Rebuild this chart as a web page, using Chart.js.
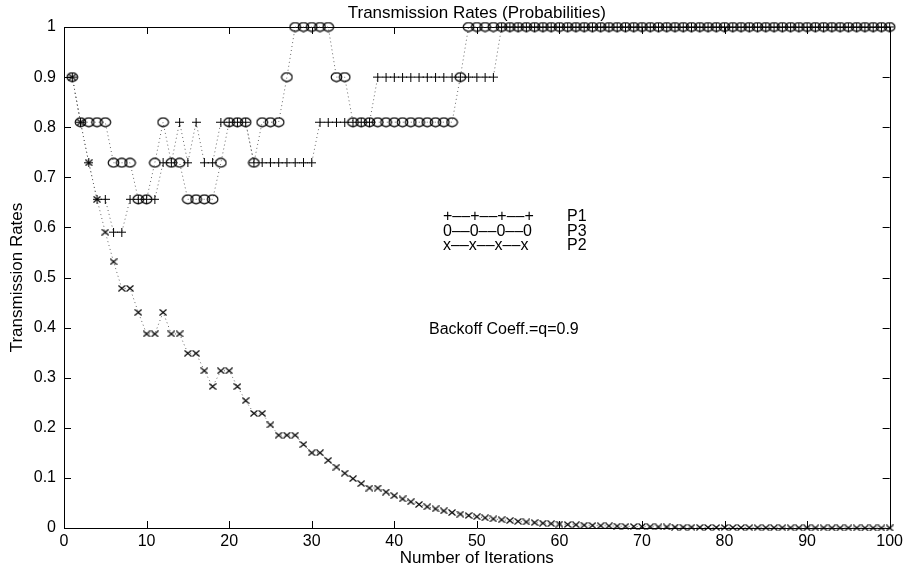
<!DOCTYPE html>
<html>
<head>
<meta charset="utf-8">
<title>Transmission Rates</title>
<script src="https://cdn.jsdelivr.net/npm/chart.js@4.4.1/dist/chart.umd.min.js"></script>
<style>
  html, body { margin: 0; padding: 0; background: #fff; }
  canvas { display: block; }
</style>
</head>
<body>
<canvas id="rates" width="907" height="569"></canvas>
<script>
// iteration number for every sample
const iterations = [
  1, 2, 3, 4, 5, 6, 7, 8, 9, 10, 11, 12, 13, 14, 15, 16, 17, 18, 19, 20,
  21, 22, 23, 24, 25, 26, 27, 28, 29, 30, 31, 32, 33, 34, 35, 36, 37, 38, 39, 40,
  41, 42, 43, 44, 45, 46, 47, 48, 49, 50, 51, 52, 53, 54, 55, 56, 57, 58, 59, 60,
  61, 62, 63, 64, 65, 66, 67, 68, 69, 70, 71, 72, 73, 74, 75, 76, 77, 78, 79, 80,
  81, 82, 83, 84, 85, 86, 87, 88, 89, 90, 91, 92, 93, 94, 95, 96, 97, 98, 99, 100
];

// transmission probability of each station per iteration (q = 0.9)
const p1 = [
  0.9, 0.81, 0.729, 0.6561, 0.6561, 0.5905, 0.5905, 0.6561, 0.6561, 0.6561,
  0.6561, 0.729, 0.729, 0.81, 0.729, 0.81, 0.729, 0.729, 0.81, 0.81,
  0.81, 0.81, 0.729, 0.729, 0.729, 0.729, 0.729, 0.729, 0.729, 0.729,
  0.81, 0.81, 0.81, 0.81, 0.81, 0.81, 0.81, 0.9, 0.9, 0.9,
  0.9, 0.9, 0.9, 0.9, 0.9, 0.9, 0.9, 0.9, 0.9, 0.9,
  0.9, 0.9, 1, 1, 1, 1, 1, 1, 1, 1,
  1, 1, 1, 1, 1, 1, 1, 1, 1, 1,
  1, 1, 1, 1, 1, 1, 1, 1, 1, 1,
  1, 1, 1, 1, 1, 1, 1, 1, 1, 1,
  1, 1, 1, 1, 1, 1, 1, 1, 1, 1
];
const p3 = [
  0.9, 0.81, 0.81, 0.81, 0.81, 0.729, 0.729, 0.729, 0.6561, 0.6561,
  0.729, 0.81, 0.729, 0.729, 0.6561, 0.6561, 0.6561, 0.6561, 0.729, 0.81,
  0.81, 0.81, 0.729, 0.81, 0.81, 0.81, 0.9, 1, 1, 1,
  1, 1, 0.9, 0.9, 0.81, 0.81, 0.81, 0.81, 0.81, 0.81,
  0.81, 0.81, 0.81, 0.81, 0.81, 0.81, 0.81, 0.9, 1, 1,
  1, 1, 1, 1, 1, 1, 1, 1, 1, 1,
  1, 1, 1, 1, 1, 1, 1, 1, 1, 1,
  1, 1, 1, 1, 1, 1, 1, 1, 1, 1,
  1, 1, 1, 1, 1, 1, 1, 1, 1, 1,
  1, 1, 1, 1, 1, 1, 1, 1, 1, 1
];
const p2 = [
  0.9, 0.81, 0.729, 0.6561, 0.5905, 0.5314, 0.4783, 0.4783, 0.4305, 0.3874,
  0.3874, 0.4305, 0.3874, 0.3874, 0.3487, 0.3487, 0.3138, 0.2824, 0.3138, 0.3138,
  0.2824, 0.2542, 0.2288, 0.2288, 0.2059, 0.1853, 0.1853, 0.1853, 0.1668, 0.1501,
  0.1501, 0.1351, 0.1216, 0.1094, 0.0985, 0.0886, 0.0798, 0.0798, 0.0718, 0.0646,
  0.0581, 0.0523, 0.0471, 0.0424, 0.0382, 0.0343, 0.0309, 0.0278, 0.0250, 0.0225,
  0.0203, 0.0182, 0.0164, 0.0148, 0.0133, 0.0120, 0.0108, 0.0097, 0.0087, 0.0079,
  0.0071, 0.0064, 0.0057, 0.0052, 0.0046, 0.0042, 0.0038, 0.0034, 0.0030, 0.0027,
  0.0025, 0.0022, 0.0020, 0.0018, 0.0016, 0.0015, 0.0013, 0.0012, 0.0011, 0.0010,
  0.0009, 0.0008, 0.0007, 0.0006, 0.0006, 0.0005, 0.0005, 0.0004, 0.0004, 0.0003,
  0.0003, 0.0003, 0.0002, 0.0002, 0.0002, 0.0002, 0.0001, 0.0001, 0.0001, 0.0001
];

const xTicks = [0, 10, 20, 30, 40, 50, 60, 70, 80, 90, 100];
const yTicks = [0, 0.1, 0.2, 0.3, 0.4, 0.5, 0.6, 0.7, 0.8, 0.9, 1];
const yTickLabels = ["0", "0.1", "0.2", "0.3", "0.4", "0.5", "0.6", "0.7", "0.8", "0.9", "1"];

const legendLines = ["+\u2013\u2013+\u2013\u2013+\u2013\u2013+", "0\u2013\u20130\u2013\u20130\u2013\u20130", "x\u2013\u2013x\u2013\u2013x\u2013\u2013x"];
const legendNames = ["P1", "P3", "P2"];
const noteText = "Backoff Coeff.=q=0.9";

const FONT = "'Liberation Sans', Arial, Helvetica, sans-serif";

// small canvases used as point markers
function makeMarker(kind) {
  const c = document.createElement("canvas");
  const g = c.getContext("2d");
  g.strokeStyle = "#000";
  g.fillStyle = "#000";
  if (kind === "o") {
    c.width = 13; c.height = 11;
    g.lineWidth = 1.2;
    g.beginPath();
    g.ellipse(6.5, 5.5, 5.3, 4.3, 0, 0, Math.PI * 2);
    g.stroke();
  } else if (kind === "+") {
    c.width = 9; c.height = 9;
    g.fillRect(4, 0, 1, 9);
    g.fillRect(0, 4, 9, 1);
  } else {
    c.width = 8; c.height = 7;
    g.lineWidth = 1.1;
    g.beginPath();
    g.moveTo(0.5, 0.5); g.lineTo(7.5, 6.5);
    g.moveTo(0.5, 6.5); g.lineTo(7.5, 0.5);
    g.stroke();
  }
  return c;
}

function series(values, marker) {
  return {
    data: iterations.map((x, i) => ({ x: x, y: values[i] })),
    pointStyle: makeMarker(marker),
    pointRadius: 4,
    pointHoverRadius: 4,
    borderColor: "#666",
    borderWidth: 1,
    borderDash: [1, 3],
    tension: 0,
    fill: false,
    clip: false
  };
}

// box with inward tick marks on all four sides
const frame = {
  id: "frame",
  beforeDatasetsDraw(chart) {
    const ctx = chart.ctx;
    const a = chart.chartArea;
    const xs = chart.scales.x, ys = chart.scales.y;
    const len = 7;
    ctx.save();
    ctx.strokeStyle = "#000";
    ctx.lineWidth = 1;
    ctx.beginPath();
    ctx.rect(Math.round(a.left) + 0.5, Math.round(a.top) + 0.5,
      Math.round(a.right - a.left), Math.round(a.bottom - a.top));
    xTicks.forEach(v => {
      const px = Math.round(xs.getPixelForValue(v)) + 0.5;
      ctx.moveTo(px, a.bottom); ctx.lineTo(px, a.bottom - len);
      ctx.moveTo(px, a.top); ctx.lineTo(px, a.top + len);
    });
    yTicks.forEach(v => {
      const py = Math.round(ys.getPixelForValue(v)) + 0.5;
      ctx.moveTo(a.left, py); ctx.lineTo(a.left + len, py);
      ctx.moveTo(a.right, py); ctx.lineTo(a.right - len, py);
    });
    ctx.stroke();
    ctx.restore();
  },
  afterDraw(chart) {
    const ctx = chart.ctx;
    const a = chart.chartArea;
    const cx = (a.left + a.right) / 2;
    ctx.save();
    ctx.fillStyle = "#000";
    ctx.textBaseline = "alphabetic";

    ctx.font = "17px " + FONT;
    ctx.textAlign = "center";
    ctx.fillText("Transmission Rates (Probabilities)", cx, 18);
    ctx.fillText("Number of Iterations", cx, 563);

    ctx.save();
    ctx.translate(22, (a.top + a.bottom) / 2);
    ctx.rotate(-Math.PI / 2);
    ctx.fillText("Transmission Rates", 0, 0);
    ctx.restore();

    ctx.font = "16px " + FONT;
    ctx.textAlign = "left";
    legendLines.forEach((t, i) => {
      const y = 221 + i * 14.5;
      ctx.fillText(t, 443, y);
      ctx.fillText(legendNames[i], 567, y);
    });
    ctx.fillText(noteText, 429, 334);
    ctx.restore();
  }
};

new Chart(document.getElementById("rates"), {
  type: "line",
  data: {
    datasets: [series(p1, "+"), series(p3, "o"), series(p2, "x")]
  },
  options: {
    responsive: false,
    animation: false,
    events: [],
    layout: { padding: { top: 27, right: 16, bottom: 0, left: 0 } },
    plugins: { legend: { display: false }, tooltip: { enabled: false } },
    scales: {
      x: {
        type: "linear",
        min: 0,
        max: 100,
        afterBuildTicks: s => { s.ticks = xTicks.map(v => ({ value: v })); },
        afterFit: s => { s.height = 41; },
        grid: { display: false, drawTicks: false },
        border: { display: false },
        ticks: { padding: 4, color: "#000", maxRotation: 0, font: { size: 16, family: FONT } }
      },
      y: {
        type: "linear",
        min: 0,
        max: 1,
        afterBuildTicks: s => { s.ticks = yTicks.map(v => ({ value: v })); },
        afterFit: s => { s.width = 64; },
        grid: { display: false, drawTicks: false },
        border: { display: false },
        ticks: {
          padding: 8,
          color: "#000",
          font: { size: 16, family: FONT },
          callback: (v, i) => yTickLabels[i]
        }
      }
    }
  },
  plugins: [frame]
});
</script>
</body>
</html>
